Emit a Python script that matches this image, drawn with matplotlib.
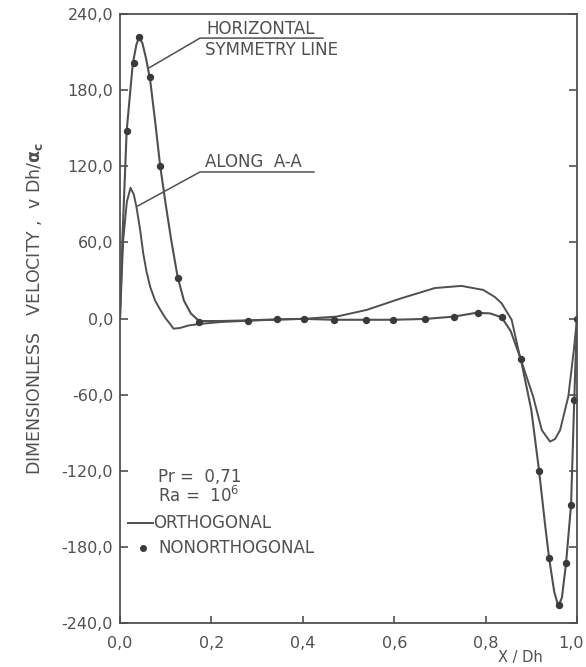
import numpy as np
import matplotlib
matplotlib.use('Agg')
import matplotlib.pyplot as plt
import matplotlib.transforms as mtransforms

# orthogonal grid, horizontal symmetry line
sym_x = [0.0, 0.005, 0.0146, 0.028, 0.036, 0.042, 0.049, 0.057, 0.066, 0.077,
         0.088, 0.100, 0.112, 0.126, 0.140, 0.155, 0.173, 0.22, 0.28, 0.35,
         0.40, 0.47, 0.54, 0.60, 0.67, 0.73, 0.78, 0.81, 0.835, 0.855,
         0.877, 0.90, 0.917, 0.93, 0.939, 0.95, 0.959, 0.967, 0.976, 0.987,
         0.994, 1.0]
sym_y = [0, 60, 148, 201, 216, 222, 217, 205, 188, 155,
         120, 90, 62, 33, 14, 4, -2, -2, -1.5, -0.6,
         -0.3, -1, -1, -1, -0.3, 1.5, 4.5, 4, 1, -10,
         -32, -72, -120, -162, -189, -215, -227, -220, -193, -147,
         -64, 0]

# orthogonal grid, along A-A
aa_x = [0.0, 0.007, 0.015, 0.023, 0.030, 0.036, 0.044, 0.051, 0.058, 0.066,
        0.077, 0.088, 0.100, 0.109, 0.117, 0.131, 0.15, 0.174, 0.22, 0.287,
        0.40, 0.474, 0.54, 0.616, 0.689, 0.747, 0.795, 0.820, 0.835, 0.857,
        0.875, 0.904, 0.923, 0.941, 0.952, 0.963, 0.981, 0.993, 1.0]
aa_y = [0, 62, 92, 103, 98, 88, 70, 51, 37, 25,
        14, 7, 0, -4, -8, -7.5, -5.5, -4.3, -2.8, -1.6,
        -0.3, 1.5, 6.8, 16, 24, 25.7, 22.5, 17, 12, -1,
        -30, -61.5, -88, -97, -95, -88, -61.5, -25, 0]

# nonorthogonal grid points
non_x = [0.0146, 0.031, 0.042, 0.066, 0.088, 0.126, 0.173, 0.280, 0.344, 0.403,
         0.469, 0.538, 0.597, 0.667, 0.730, 0.784, 0.835, 0.877, 0.917, 0.939,
         0.960, 0.976, 0.987, 0.994, 0.999]
non_y = [148, 201, 222, 190, 120, 32, -2.4, -1.6, -0.6, -0.2,
         -1.2, -1.4, -1, -0.4, 1.3, 4.5, 1.5, -32, -120, -189,
         -226, -193, -147, -64, 0]

xticks = [0.0, 0.2, 0.4, 0.6, 0.8, 1.0]
yticks = [-240, -180, -120, -60, 0, 60, 120, 180, 240]

col = '#505050'
plt.rcParams['font.family'] = ['DejaVu Sans']

fig = plt.figure(figsize=(5.86, 6.67), dpi=100)
ax = fig.add_axes([120/586, 1-623/667, 457/586, 609/667])

ax.plot(sym_x, sym_y, color=col, lw=1.5)
ax.plot(aa_x, aa_y, color=col, lw=1.4)
ax.plot(non_x, non_y, 'o', color='#3a3a3a', ms=4.3)

ax.set_xlim(0, 1)
ax.set_ylim(-240, 240)
ax.set_xticks(xticks)
ax.set_yticks(yticks)
ax.set_xticklabels([('%.1f' % v).replace('.', ',') for v in xticks])
ax.set_yticklabels([('%.1f' % v).replace('.', ',') for v in yticks])
ax.tick_params(axis='both', colors=col, labelsize=11.5, width=1.2, direction='in')
ax.tick_params(axis='y', length=6, right=True, pad=5)
ax.tick_params(axis='x', length=5, pad=9)
for s in ax.spines.values():
    s.set_color(col)
    s.set_linewidth(1.3)

# last x label sits against the figure edge, nudge it in a little
last = ax.get_xticklabels()[-1]
last.set_transform(last.get_transform() +
                   mtransforms.ScaledTranslation(-6/100, 0, fig.dpi_scale_trans))

ax.set_xlabel('X / Dh', fontsize=10.5, color=col)
ax.xaxis.set_label_coords(0.877, -0.045)
ax.set_ylabel(r'DIMENSIONLESS   VELOCITY ,  v Dh/$\mathbf{\alpha_c}$', fontsize=12.5, color=col)
ax.yaxis.set_label_coords(-0.165, 0.517)

# annotations
fs = 12
ax.text(0.19, 228, 'HORIZONTAL', fontsize=fs, color=col, va='center')
ax.text(0.186, 212, 'SYMMETRY LINE', fontsize=fs, color=col, va='center')
ax.plot([0.061, 0.175, 0.444], [197, 221, 221], color=col, lw=1.1)
ax.text(0.186, 123, 'ALONG  A-A', fontsize=fs, color=col, va='center')
ax.plot([0.039, 0.175, 0.4245], [88.7, 115.5, 115.5], color=col, lw=1.1)

ax.text(0.083, -124.8, 'Pr =  0,71', fontsize=fs, color=col, va='center')
ax.text(0.083, -140, r'Ra =  10$^{6}$', fontsize=fs, color=col, va='center')
ax.plot([0.0175, 0.072], [-161, -161], color=col, lw=1.4)
ax.text(0.072, -161, 'ORTHOGONAL', fontsize=fs, color=col, va='center')
ax.plot([0.05], [-180.8], 'o', color='#3a3a3a', ms=4)
ax.text(0.083, -180.8, 'NONORTHOGONAL', fontsize=fs, color=col, va='center')

fig.savefig('out.png', dpi=100)
